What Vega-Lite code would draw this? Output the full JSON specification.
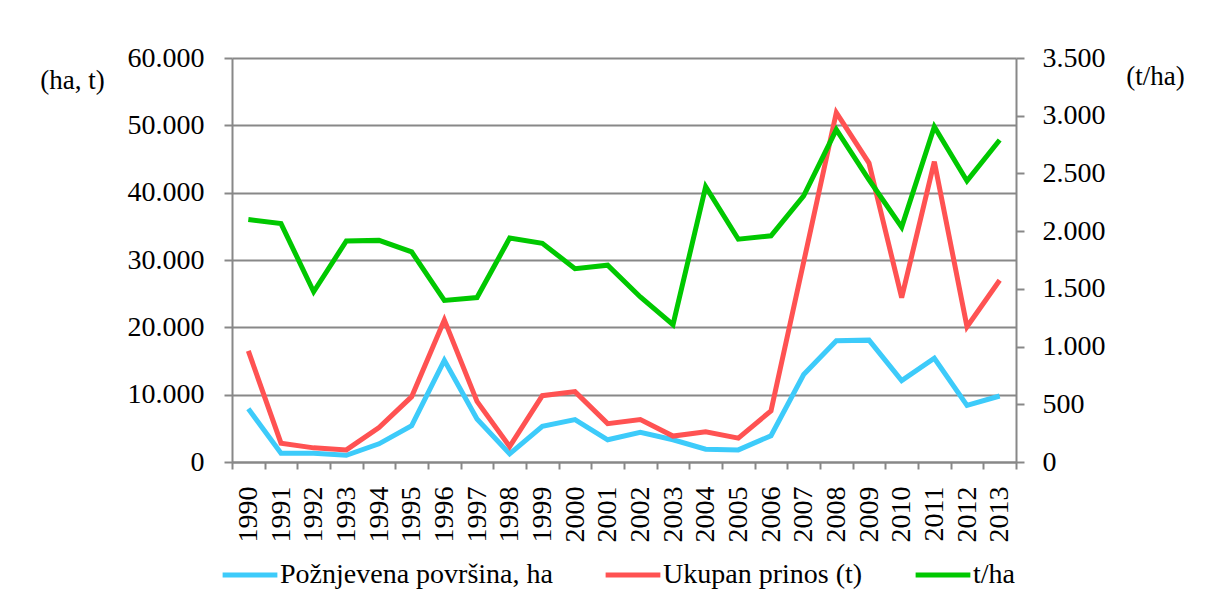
{
  "$schema": "https://vega.github.io/schema/vega-lite/v6.json",
  "width": 784,
  "height": 404,
  "autosize": {"type": "none"},
  "padding": {"left": 232, "top": 58, "right": 192, "bottom": 139},
  "background": "white",
  "config": {
    "view": {"stroke": null},
    "font": "Liberation Serif",
    "axis": {
      "labelFont": "Liberation Serif",
      "titleFont": "Liberation Serif",
      "labelFontSize": 28,
      "titleFontSize": 27,
      "labelColor": "#000000",
      "titleColor": "#000000",
      "titleFontWeight": "normal",
      "domainColor": "#888888",
      "domainWidth": 2,
      "tickColor": "#888888",
      "tickWidth": 2,
      "tickSize": 8,
      "gridColor": "#888888",
      "gridWidth": 2
    },
    "legend": {
      "labelFont": "Liberation Serif",
      "labelFontSize": 28,
      "labelColor": "#000000"
    }
  },
  "data": {
    "values": [
      {"year": "1990", "series": "Požnjevena površina, ha", "value": 7900},
      {"year": "1991", "series": "Požnjevena površina, ha", "value": 1300},
      {"year": "1992", "series": "Požnjevena površina, ha", "value": 1300},
      {"year": "1993", "series": "Požnjevena površina, ha", "value": 1000},
      {"year": "1994", "series": "Požnjevena površina, ha", "value": 2700},
      {"year": "1995", "series": "Požnjevena površina, ha", "value": 5400},
      {"year": "1996", "series": "Požnjevena površina, ha", "value": 15100},
      {"year": "1997", "series": "Požnjevena površina, ha", "value": 6400},
      {"year": "1998", "series": "Požnjevena površina, ha", "value": 1200},
      {"year": "1999", "series": "Požnjevena površina, ha", "value": 5300},
      {"year": "2000", "series": "Požnjevena površina, ha", "value": 6300},
      {"year": "2001", "series": "Požnjevena površina, ha", "value": 3300},
      {"year": "2002", "series": "Požnjevena površina, ha", "value": 4400},
      {"year": "2003", "series": "Požnjevena površina, ha", "value": 3300},
      {"year": "2004", "series": "Požnjevena površina, ha", "value": 1900},
      {"year": "2005", "series": "Požnjevena površina, ha", "value": 1800},
      {"year": "2006", "series": "Požnjevena površina, ha", "value": 3900},
      {"year": "2007", "series": "Požnjevena površina, ha", "value": 13000},
      {"year": "2008", "series": "Požnjevena površina, ha", "value": 18000},
      {"year": "2009", "series": "Požnjevena površina, ha", "value": 18100},
      {"year": "2010", "series": "Požnjevena površina, ha", "value": 12100},
      {"year": "2011", "series": "Požnjevena površina, ha", "value": 15400},
      {"year": "2012", "series": "Požnjevena površina, ha", "value": 8400},
      {"year": "2013", "series": "Požnjevena površina, ha", "value": 9800},
      {"year": "1990", "series": "Ukupan prinos (t)", "value": 16500},
      {"year": "1991", "series": "Ukupan prinos (t)", "value": 2800},
      {"year": "1992", "series": "Ukupan prinos (t)", "value": 2100},
      {"year": "1993", "series": "Ukupan prinos (t)", "value": 1800},
      {"year": "1994", "series": "Ukupan prinos (t)", "value": 5100},
      {"year": "1995", "series": "Ukupan prinos (t)", "value": 9700},
      {"year": "1996", "series": "Ukupan prinos (t)", "value": 21100},
      {"year": "1997", "series": "Ukupan prinos (t)", "value": 9000},
      {"year": "1998", "series": "Ukupan prinos (t)", "value": 2300},
      {"year": "1999", "series": "Ukupan prinos (t)", "value": 9850},
      {"year": "2000", "series": "Ukupan prinos (t)", "value": 10450},
      {"year": "2001", "series": "Ukupan prinos (t)", "value": 5700},
      {"year": "2002", "series": "Ukupan prinos (t)", "value": 6300},
      {"year": "2003", "series": "Ukupan prinos (t)", "value": 3850},
      {"year": "2004", "series": "Ukupan prinos (t)", "value": 4500},
      {"year": "2005", "series": "Ukupan prinos (t)", "value": 3550},
      {"year": "2006", "series": "Ukupan prinos (t)", "value": 7600},
      {"year": "2007", "series": "Ukupan prinos (t)", "value": 29700},
      {"year": "2008", "series": "Ukupan prinos (t)", "value": 51900},
      {"year": "2009", "series": "Ukupan prinos (t)", "value": 44400},
      {"year": "2010", "series": "Ukupan prinos (t)", "value": 24400},
      {"year": "2011", "series": "Ukupan prinos (t)", "value": 44600},
      {"year": "2012", "series": "Ukupan prinos (t)", "value": 20100},
      {"year": "2013", "series": "Ukupan prinos (t)", "value": 27000},
      {"year": "1990", "series": "t/ha", "value": 2100},
      {"year": "1991", "series": "t/ha", "value": 2065},
      {"year": "1992", "series": "t/ha", "value": 1475},
      {"year": "1993", "series": "t/ha", "value": 1915},
      {"year": "1994", "series": "t/ha", "value": 1920},
      {"year": "1995", "series": "t/ha", "value": 1820},
      {"year": "1996", "series": "t/ha", "value": 1400},
      {"year": "1997", "series": "t/ha", "value": 1425},
      {"year": "1998", "series": "t/ha", "value": 1940},
      {"year": "1999", "series": "t/ha", "value": 1895},
      {"year": "2000", "series": "t/ha", "value": 1675},
      {"year": "2001", "series": "t/ha", "value": 1705},
      {"year": "2002", "series": "t/ha", "value": 1430},
      {"year": "2003", "series": "t/ha", "value": 1190},
      {"year": "2004", "series": "t/ha", "value": 2385},
      {"year": "2005", "series": "t/ha", "value": 1930},
      {"year": "2006", "series": "t/ha", "value": 1960},
      {"year": "2007", "series": "t/ha", "value": 2305},
      {"year": "2008", "series": "t/ha", "value": 2880},
      {"year": "2009", "series": "t/ha", "value": 2445},
      {"year": "2010", "series": "t/ha", "value": 2035},
      {"year": "2011", "series": "t/ha", "value": 2905},
      {"year": "2012", "series": "t/ha", "value": 2435},
      {"year": "2013", "series": "t/ha", "value": 2790}
    ]
  },
  "encoding": {
    "x": {
      "field": "year",
      "type": "ordinal",
      "bandPosition": 0.5,
      "scale": {"type": "band", "paddingInner": 0, "paddingOuter": 0},
      "axis": {
        "title": null,
        "labelAngle": 270,
        "labelPadding": 17,
        "tickBand": "extent",
        "grid": false,
        "tickSize": 7
      }
    },
    "color": {
      "field": "series",
      "type": "nominal",
      "scale": {
        "domain": ["Požnjevena površina, ha", "Ukupan prinos (t)", "t/ha"],
        "range": ["#3DCBFA", "#FF5252", "#00C800"]
      },
      "legend": {
        "title": null,
        "orient": "none",
        "direction": "horizontal",
        "legendX": -12,
        "legendY": 487,
        "symbolType": "stroke",
        "symbolSize": 3000,
        "symbolStrokeWidth": 5,
        "labelOffset": 0,
        "labelLimit": 0,
        "columnPadding": 42
      }
    }
  },
  "layer": [
    {
      "transform": [{"filter": "datum.series != 't/ha'"}],
      "mark": {"type": "line", "strokeWidth": 5},
      "encoding": {
        "y": {
          "field": "value",
          "type": "quantitative",
          "scale": {"domain": [0, 60000], "nice": false},
          "axis": {
            "values": [0, 10000, 20000, 30000, 40000, 50000, 60000],
            "labelExpr": "replace(format(datum.value, ',.0f'), ',', '.')",
            "labelPadding": 20,
            "title": "(ha, t)",
            "titleAngle": 0,
            "titleAlign": "center",
            "titleBaseline": "middle",
            "titleX": -160,
            "titleY": 22,
            "grid": true
          }
        }
      }
    },
    {
      "transform": [{"filter": "datum.series == 't/ha'"}],
      "mark": {"type": "line", "strokeWidth": 5},
      "encoding": {
        "y": {
          "field": "value",
          "type": "quantitative",
          "scale": {"domain": [0, 3500], "nice": false},
          "axis": {
            "orient": "right",
            "values": [0, 500, 1000, 1500, 2000, 2500, 3000, 3500],
            "labelExpr": "replace(format(datum.value, ',.0f'), ',', '.')",
            "labelPadding": 18,
            "title": "(t/ha)",
            "titleAngle": 0,
            "titleAlign": "center",
            "titleBaseline": "middle",
            "titleX": 139,
            "titleY": 18,
            "grid": false
          }
        }
      }
    }
  ],
  "resolve": {"scale": {"y": "independent"}}
}
